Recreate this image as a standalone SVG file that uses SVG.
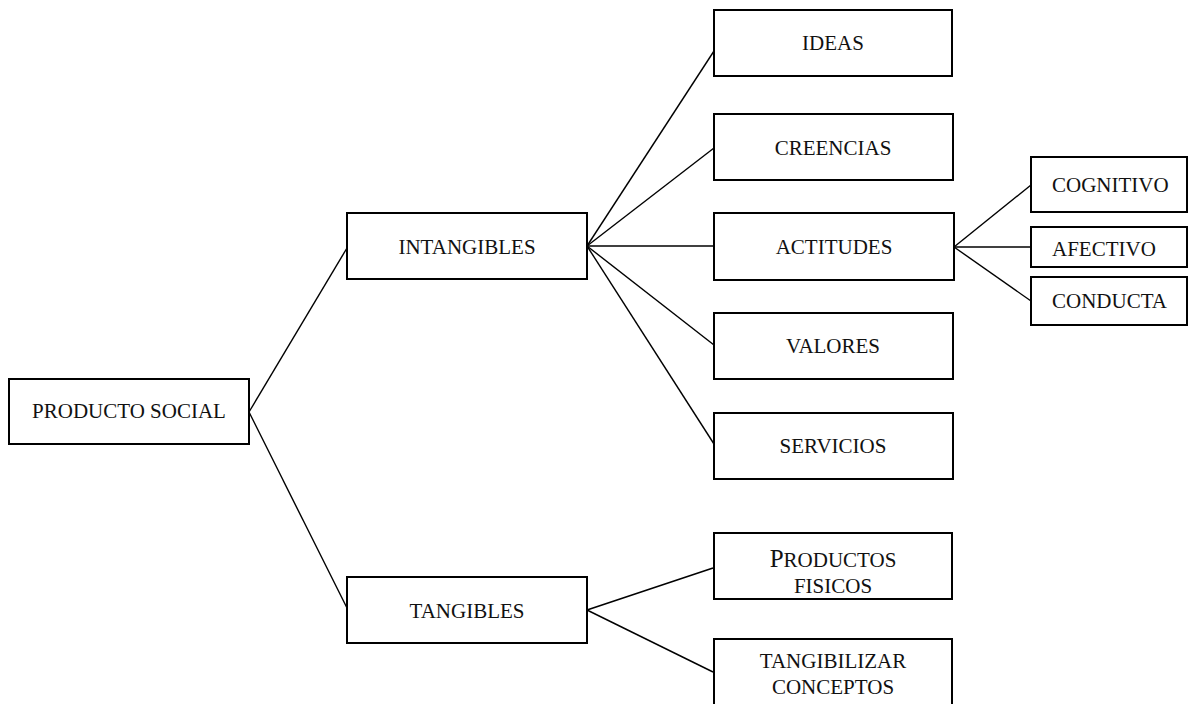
<svg xmlns="http://www.w3.org/2000/svg" width="1188" height="704" viewBox="0 0 1188 704">
<style>
.box{fill:#fff;stroke:#000;stroke-width:2}
.t{font-family:"Liberation Serif","Times New Roman",serif;font-size:21px;fill:#111;text-anchor:middle}
.tl{font-family:"Liberation Serif","Times New Roman",serif;font-size:21px;fill:#111}
.c{stroke:#000;stroke-width:1.4;fill:none}
</style>
<rect width="1188" height="704" fill="#fff"/>
<g id="connectors">
<line class="c" x1="249" y1="412" x2="347" y2="248"/>
<line class="c" x1="249" y1="412" x2="347" y2="608"/>
<line class="c" x1="587" y1="246" x2="714" y2="51"/>
<line class="c" x1="587" y1="246" x2="714" y2="148"/>
<line class="c" x1="587" y1="246" x2="714" y2="246"/>
<line class="c" x1="587" y1="246" x2="714" y2="345"/>
<line class="c" x1="587" y1="246" x2="714" y2="444"/>
<line class="c" x1="954" y1="247" x2="1031" y2="185"/>
<line class="c" x1="954" y1="247" x2="1031" y2="247"/>
<line class="c" x1="954" y1="247" x2="1031" y2="301"/>
<line class="c" x1="587" y1="610" x2="713" y2="568"/>
<line class="c" x1="587" y1="610" x2="713" y2="672"/>
</g>
<g id="producto-social"><rect class="box" x="9" y="379" width="240" height="65"/><text class="t" x="129" y="418">PRODUCTO SOCIAL</text></g>
<g id="intangibles"><rect class="box" x="347" y="213" width="240" height="66"/><text class="t" x="467" y="254">INTANGIBLES</text></g>
<g id="tangibles"><rect class="box" x="347" y="577" width="240" height="66"/><text class="t" x="467" y="618">TANGIBLES</text></g>
<g id="ideas"><rect class="box" x="714" y="10" width="238" height="66"/><text class="t" x="833" y="50">IDEAS</text></g>
<g id="creencias"><rect class="box" x="714" y="114" width="239" height="66"/><text class="t" x="833" y="155">CREENCIAS</text></g>
<g id="actitudes"><rect class="box" x="714" y="213" width="240" height="67"/><text class="t" x="834" y="254">ACTITUDES</text></g>
<g id="valores"><rect class="box" x="714" y="313" width="239" height="66"/><text class="t" x="833" y="353">VALORES</text></g>
<g id="servicios"><rect class="box" x="714" y="413" width="239" height="66"/><text class="t" x="833" y="453">SERVICIOS</text></g>
<g id="cognitivo"><rect class="box" x="1031" y="157" width="156" height="55"/><text class="tl" x="1052" y="192">COGNITIVO</text></g>
<g id="afectivo"><rect class="box" x="1031" y="227" width="156" height="40"/><text class="tl" x="1052" y="256">AFECTIVO</text></g>
<g id="conducta"><rect class="box" x="1031" y="277" width="156" height="48"/><text class="tl" x="1052" y="308">CONDUCTA</text></g>
<g id="productos-fisicos"><rect class="box" x="714" y="533" width="238" height="66"/><text class="t" x="833" y="567"><tspan font-size="25">P</tspan>RODUCTOS</text><text class="t" x="833" y="593">FISICOS</text></g>
<g id="tangibilizar-conceptos"><rect class="box" x="714" y="639" width="238" height="70"/><text class="t" x="833" y="668">TANGIBILIZAR</text><text class="t" x="833" y="694">CONCEPTOS</text></g>
</svg>
